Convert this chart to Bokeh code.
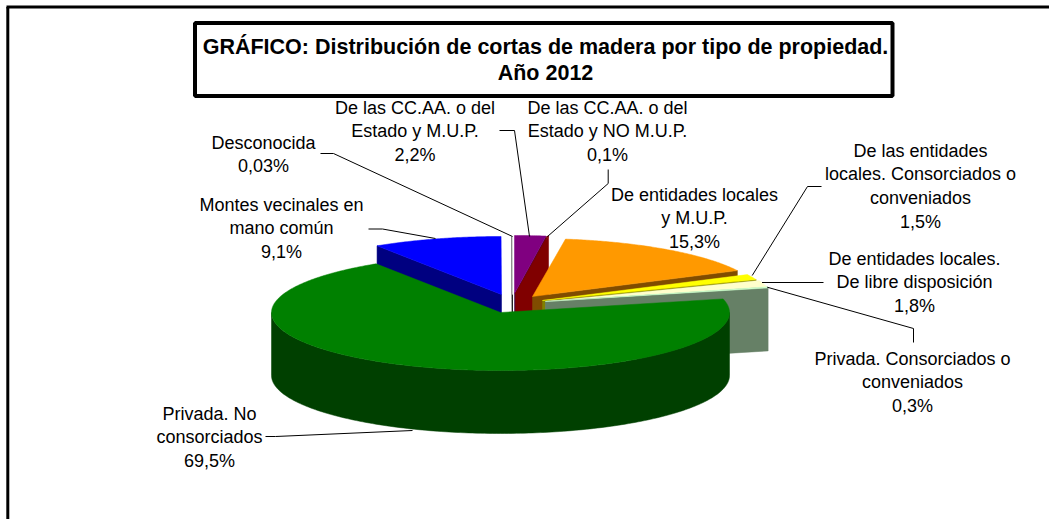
import numpy as np
from bokeh.plotting import figure
from bokeh.models import Range1d, ColumnDataSource
from bokeh.core.properties import value
from bokeh.embed import file_html
from bokeh.resources import INLINE

# ---- data (clockwise from 12 o'clock) ----
shares = [2.2, 0.1, 15.3, 1.5, 1.8, 0.3, 69.5, 9.1, 0.03]
share_labels = ["2,2%", "0,1%", "15,3%", "1,5%", "1,8%", "0,3%", "69,5%", "9,1%", "0,03%"]
category_lines = [
    ["De las CC.AA. o del", "Estado y M.U.P."],
    ["De las CC.AA. o del", "Estado y NO M.U.P."],
    ["De entidades locales", "y M.U.P."],
    ["De las entidades", "locales. Consorciados o", "conveniados"],
    ["De entidades locales.", "De libre disposición"],
    ["Privada. Consorciados o", "conveniados"],
    ["Privada. No", "consorciados"],
    ["Montes vecinales en", "mano común"],
    ["Desconocida"],
]
title_lines = ["GRÁFICO: Distribución de cortas de madera por tipo de propiedad.", "Año 2012"]

# ---- style ----
top_colors = ["#800080", "#800000", "#FF9900", "#FFFF00", "#FFFFCC", "#CCFFCC", "#008000", "#0000FF", "#FFFFFF"]
wall_colors = ["#400040", "#800000", "#804C00", "#808000", "#808066", "#668066", "#004000", "#000080", "#222222"]
edge_widths = [0.5, 0.5, 0.5, 0.5, 0.5, 0.5, 0.5, 0.5, 1.0]
draw_order = [7, 8, 0, 1, 2, 3, 4, 5, 6]

# ---- layout, in pixels of the 1049x519 page ----
W, H = 1049, 519
RX, RY, DEPTH = 229, 58, 63
apex_x = [514, 515, 532, 542, 545, 545, 500, 501, 512]
apex_y = [293, 293, 296, 300, 301, 301, 312, 294, 294]
label_x = [414.5, 607, 694, 920, 914, 912, 209, 281, 263]
label_y0 = [107, 107, 194, 150, 258, 358, 413, 204, 142]
LINE_H = 23.7
leader_xs = [[499, 514, 529], [607.7, 607.7, 547], [], [821, 807, 751.7], [823, 761.5], [913, 913, 766.7],
             [265, 275, 412], [368, 382, 435], [320, 333, 512]]
leader_ys = [[130, 130, 236], [169, 183, 236], [], [186, 186, 275], [282, 282], [342, 328, 286.7],
             [436, 436, 430], [228.5, 228.5, 238], [153, 153, 236]]

p = figure(width=W, height=H, x_range=Range1d(0, W), y_range=Range1d(H, 0),
           x_axis_type=None, y_axis_type=None, toolbar_location=None,
           output_backend="svg", min_border=0, outline_line_color=None,
           background_fill_color="white", border_fill_color="white")
p.styles = {"position": "absolute", "left": "0px", "top": "0px"}

# outer frame (left and top only are in the picture)
p.multi_line([[7.3, 7.3], [6, W]], [[6.5, H], [6.5, 6.5]], line_color="black", line_width=3)


def rim(cx, cy, a):
    a = np.radians(a)
    return cx + RX * np.sin(a), cy - RY * np.cos(a)


edges = np.concatenate([[0], np.cumsum(shares)]) / sum(shares) * 360
xs, ys, fills, widths = [], [], [], []


def add(x, y, c, w):
    xs.append(list(x)); ys.append(list(y)); fills.append(c); widths.append(w)


for i in draw_order:
    a0, a1 = edges[i], edges[i + 1]
    cx, cy = apex_x[i], apex_y[i]
    # radial walls facing the viewer
    if np.sin(np.radians(a1)) > 0:
        tx, ty = rim(cx, cy, a1)
        add([cx, tx, tx, cx], [cy, ty, ty + DEPTH, cy + DEPTH], wall_colors[i], edge_widths[i])
    if np.sin(np.radians(a0)) < 0:
        tx, ty = rim(cx, cy, a0)
        add([cx, tx, tx, cx], [cy, ty, ty + DEPTH, cy + DEPTH], wall_colors[i], edge_widths[i])
    # outer wall (front half only)
    f0, f1 = max(a0, 90), min(a1, 270)
    if f1 > f0:
        t = np.linspace(f0, f1, 181)
        rx, ry = rim(cx, cy, t)
        add(np.r_[rx, rx[::-1]], np.r_[ry, ry[::-1] + DEPTH], wall_colors[i], 0.5)
    # top face
    t = np.linspace(a0, a1, max(2, int(a1 - a0) * 2 + 2))
    rx, ry = rim(cx, cy, t)
    add(np.r_[cx, rx], np.r_[cy, ry], top_colors[i], 0.5)

p.patches("xs", "ys", fill_color="fills", line_color="fills", line_width="widths",
          source=ColumnDataSource(dict(xs=xs, ys=ys, fills=fills, widths=widths)))

# leader lines
lx = [a for a in leader_xs if a]
ly = [a for a in leader_ys if a]
p.multi_line(lx, ly, line_color="black", line_width=1)

# data labels
tx, ty, tt = [], [], []
for i, lines in enumerate(category_lines):
    for k, s in enumerate(lines + [share_labels[i]]):
        tx.append(label_x[i]); ty.append(label_y0[i] + k * LINE_H); tt.append(s)
p.text(tx, ty, text=tt, text_font=value("Liberation Sans"), text_font_size="18px",
       text_color="black", text_align="center", text_baseline="middle")

# title box
p.quad(left=[194.5], right=[892], top=[22.5], bottom=[95.5], fill_color="white",
       line_color="black", line_width=4)
p.text([545, 545], [46, 72], text=title_lines, text_font=value("Liberation Sans"),
       text_font_size="21.5px", text_font_style="bold", text_color="black",
       text_align="center", text_baseline="middle")

open("out.html", "w").write(file_html(p, INLINE))
